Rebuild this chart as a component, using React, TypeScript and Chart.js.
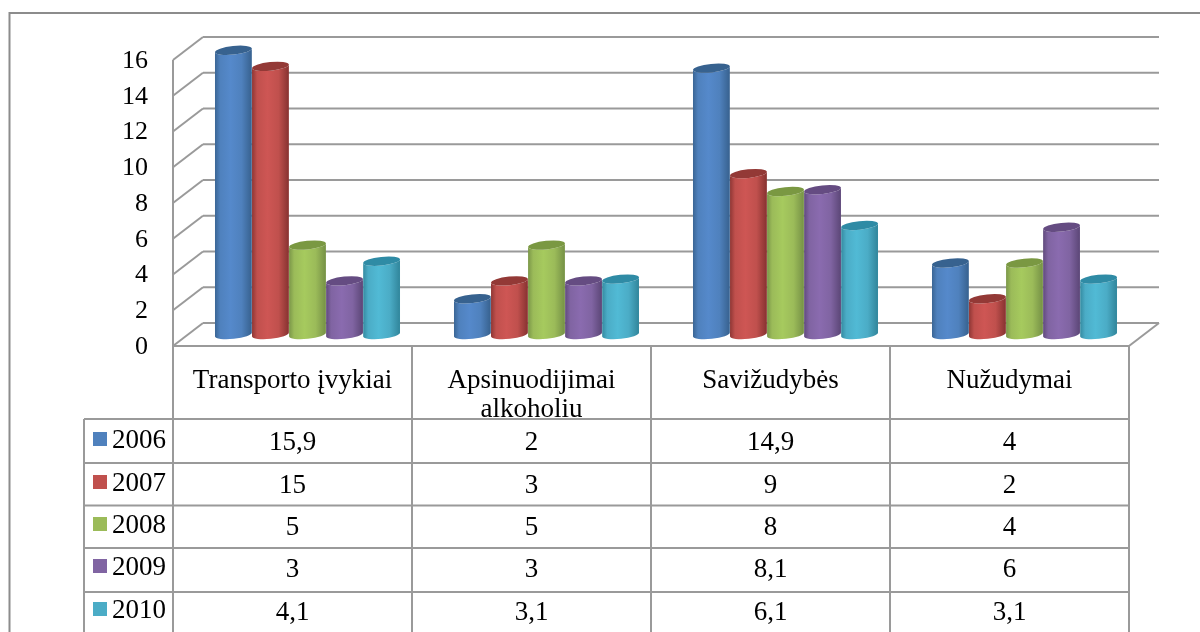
import React, { useEffect, useRef } from "react";
import { Chart, registerables } from "chart.js";

Chart.register(...registerables);

const categories: (string | string[])[] = [
  "Transporto įvykiai",
  ["Apsinuodijimai", "alkoholiu"],
  "Savižudybės",
  "Nužudymai",
];
const years = ["2006", "2007", "2008", "2009", "2010"];
const values2006 = [15.9, 2, 14.9, 4];
const values2007 = [15, 3, 9, 2];
const values2008 = [5, 5, 8, 4];
const values2009 = [3, 3, 8.1, 6];
const values2010 = [4.1, 3.1, 6.1, 3.1];
const seriesValues = [values2006, values2007, values2008, values2009, values2010];

const colors = ["#4F81BD", "#C0504D", "#9BBB59", "#8064A2", "#4BACC6"];
const lights = ["#5589CB", "#CE5654", "#A6CA5E", "#8A6BAF", "#51BAD5"];
const darks = ["#3A6594", "#8E3634", "#7A9648", "#604A7C", "#348AA0"];
const tops = ["#37628F", "#933936", "#7A9842", "#654C82", "#2F8BA5"];

const SERIF = '"Liberation Serif", "Times New Roman", serif';
const LINE = "#9a9a9a";
const DEPTH_X = 30;
const DEPTH_Y = 23;
const TILT = (-6 * Math.PI) / 180;
const RY = 4.3;

const rowLines = [419, 463, 505.5, 548, 592];
const rowCentres = [440, 483, 525, 567, 610];
const legendLeft = 84;

function line(ctx: CanvasRenderingContext2D, x1: number, y1: number, x2: number, y2: number) {
  ctx.beginPath();
  ctx.moveTo(x1, y1);
  ctx.lineTo(x2, y2);
  ctx.stroke();
}

const cylinderPlugin = {
  id: "cylinders",
  beforeDatasetsDraw(chart: any) {
    const { ctx, chartArea, scales } = chart;
    const { left, right } = chartArea;
    ctx.save();
    ctx.lineWidth = 2;
    ctx.strokeStyle = LINE;
    scales.y.ticks.forEach((t: any) => {
      const y = scales.y.getPixelForValue(t.value);
      line(ctx, left + DEPTH_X, y - DEPTH_Y, right + DEPTH_X, y - DEPTH_Y);
      line(ctx, left, y, left + DEPTH_X, y - DEPTH_Y);
    });
    const y0 = scales.y.getPixelForValue(0);
    line(ctx, right, y0, right + DEPTH_X, y0 - DEPTH_Y);
    line(ctx, left, scales.y.getPixelForValue(16), left, y0);
    line(ctx, left, y0, right, y0);
    ctx.restore();
  },
  beforeDatasetDraw(chart: any, args: any) {
    const { ctx } = chart;
    const i = args.index;
    const meta = args.meta;
    meta.data.forEach((bar: any) => {
      const cx = bar.x + DEPTH_X / 2;
      const top = bar.y - DEPTH_Y / 2;
      const base = bar.base - DEPTH_Y / 2;
      const rx = bar.width / 2;
      const g = ctx.createLinearGradient(cx - rx, 0, cx + rx, 0);
      g.addColorStop(0, darks[i]);
      g.addColorStop(0.14, colors[i]);
      g.addColorStop(0.42, lights[i]);
      g.addColorStop(0.72, colors[i]);
      g.addColorStop(0.96, darks[i]);
      g.addColorStop(1, darks[i]);
      ctx.save();
      ctx.beginPath();
      ctx.ellipse(cx, top, rx, RY, TILT, Math.PI, 0, true);
      ctx.ellipse(cx, base, rx, RY, TILT, 0, Math.PI, false);
      ctx.closePath();
      ctx.fillStyle = g;
      ctx.fill();
      ctx.beginPath();
      ctx.ellipse(cx, top, rx, RY, TILT, 0, Math.PI * 2);
      ctx.fillStyle = tops[i];
      ctx.fill();
      ctx.restore();
    });
    return false;
  },
  afterDraw(chart: any) {
    const { ctx, chartArea, scales, height } = chart;
    const { left, right, bottom } = chartArea;
    const x = scales.x;
    const colWidth = (right - left) / categories.length;
    ctx.save();
    ctx.lineWidth = 2;
    // outer frame
    ctx.strokeStyle = "#8c8c8c";
    line(ctx, 9.5, 13, chart.width, 13);
    line(ctx, 9.5, 12, 9.5, height);
    // table
    ctx.strokeStyle = LINE;
    categories.forEach((_, c) => {
      const cx = left + colWidth * c;
      line(ctx, cx, bottom, cx, height);
    });
    line(ctx, right, bottom, right, height);
    line(ctx, legendLeft, rowLines[0], legendLeft, height);
    rowLines.forEach((y) => line(ctx, legendLeft, y, right, y));

    ctx.fillStyle = "#000";
    ctx.textBaseline = "middle";
    ctx.font = `27px ${SERIF}`;
    ctx.textAlign = "center";
    categories.forEach((label, c) => {
      const px = x.getPixelForValue(c);
      if (Array.isArray(label)) {
        label.forEach((l, k) => ctx.fillText(l, px, 381 + k * 29));
      } else {
        ctx.fillText(label, px, 381);
      }
    });
    years.forEach((year, r) => {
      const y = rowCentres[r];
      ctx.fillStyle = colors[r];
      ctx.fillRect(legendLeft + 9, y - 8, 14, 14);
      ctx.fillStyle = "#000";
      ctx.textAlign = "left";
      ctx.fillText(year, legendLeft + 28, y + 1);
      ctx.textAlign = "center";
      seriesValues[r].forEach((v, c) => {
        ctx.fillText(String(v).replace(".", ","), x.getPixelForValue(c), y + 2.5);
      });
    });
    ctx.restore();
  },
};

export default function App() {
  const ref = useRef<HTMLCanvasElement | null>(null);
  useEffect(() => {
    if (!ref.current) return;
    const chart = new Chart(ref.current, {
      type: "bar",
      data: {
        labels: categories as any,
        datasets: years.map((year, i) => ({
          label: year,
          data: seriesValues[i],
          backgroundColor: colors[i],
          barPercentage: 1,
          categoryPercentage: 0.775,
        })),
      },
      options: {
        responsive: false,
        animation: false,
        layout: { padding: { left: 0, right: 71, top: 60, bottom: 286 } },
        plugins: { legend: { display: false }, tooltip: { enabled: false } },
        scales: {
          x: { display: false },
          y: {
            min: 0,
            max: 16,
            afterFit(scale: any) {
              scale.width = 173;
            },
            border: { display: false },
            grid: { display: false, drawTicks: false },
            ticks: {
              stepSize: 2,
              padding: 25,
              labelOffset: 1,
              color: "#000",
              font: { family: SERIF, size: 26 },
            },
          },
        },
      },
      plugins: [cylinderPlugin],
    } as any);
    return () => chart.destroy();
  }, []);
  return (
    <div style={{ position: "fixed", left: 0, top: 0, width: 1200, height: 632, background: "#fff", overflow: "hidden" }}>
      <canvas ref={ref} width={1200} height={632} style={{ display: "block", filter: "blur(0.5px)" }} />
    </div>
  );
}
